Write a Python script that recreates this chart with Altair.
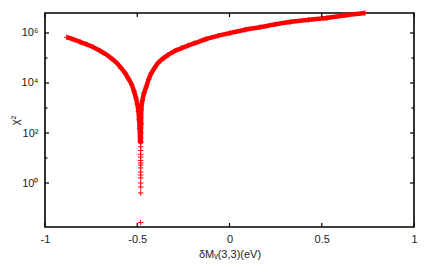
import altair as alt
import pandas as pd

# --- data ---
# thick band (continuous curve of dense points), left to right
band_x = [-0.882, -0.846, -0.810, -0.774, -0.738, -0.702, -0.666, -0.638, -0.611, -0.588,
          -0.566, -0.548, -0.530, -0.518, -0.507, -0.500, -0.494, -0.490, -0.487, -0.484,
          -0.481, -0.4795, -0.478, -0.472, -0.463, -0.451, -0.438, -0.424, -0.406, -0.388,
          -0.360, -0.333, -0.297, -0.261, -0.225, -0.189, -0.126, -0.060, 0.003, 0.085,
          0.165, 0.245, 0.328, 0.428, 0.528, 0.630, 0.734]
band_chi2 = [6.8e5, 5.5e5, 4.4e5, 3.5e5, 2.7e5, 1.95e5, 1.35e5, 9.4e4, 6.3e4, 4.0e4,
             2.5e4, 1.5e4, 8.5e3, 4.8e3, 2.5e3, 1.45e3, 7.4e2, 3.4e2, 1.5e2, 4.5e1,
             4.5e1, 2.2e2, 8.3e2, 2.0e3, 4.0e3, 7.1e3, 1.4e4, 2.45e4, 4.0e4, 6.2e4,
             9.6e4, 1.32e5, 1.9e5, 2.45e5, 3.15e5, 3.9e5, 5.75e5, 7.8e5, 1.0e6, 1.35e6,
             1.7e6, 2.2e6, 2.75e6, 3.35e6, 4.0e6, 5.1e6, 6.3e6]

# scattered individual '+' points at the bottom of the dip
dip_x = [-0.4830, -0.4800, -0.4825, -0.4805, -0.4820, -0.4808, -0.4815, -0.4810, -0.4818,
         -0.4812, -0.4816, -0.4811, -0.4814, -0.4813, -0.4812, -0.4813, -0.4814, -0.4813,
         -0.4813, -0.4813, -0.4813]
dip_chi2 = [400, 250, 160, 100, 63, 40, 28, 20, 14, 11,
            8.0, 6.3, 5.2, 4.0, 2.75, 2.1, 1.6, 1.0, 0.69, 0.4, 0.026]

x_ticks = [-1, -0.5, 0, 0.5, 1]
x_labels = ["-1", "-0.5", "0", "0.5", "1"]
y_major = [1, 1e2, 1e4, 1e6]
y_labels = ["10\u2070", "10\u00b2", "10\u2074", "10\u2076"]
y_minor = [10, 1e3, 1e5]

W, H = 369, 214
RED = "#ff0000"
CROSS = "M-1,0L1,0M0,-1L0,1"

band = pd.DataFrame({"x": band_x, "chi2": band_chi2})
dip = pd.DataFrame({"x": dip_x, "chi2": dip_chi2})
pts = pd.concat([band, dip], ignore_index=True)

xscale = alt.Scale(domain=[-1, 1], nice=False, zero=False)
yscale = alt.Scale(type="log", domain=[0.0174, 6.3e6], nice=False)

def ylab_expr():
    expr = "''"
    for v, l in zip(y_major, y_labels):
        expr = f"(datum.value == {v} ? '{l}' : {expr})"
    return expr

def xlab_expr():
    expr = "''"
    for v, l in zip(x_ticks, x_labels):
        expr = f"(abs(datum.value - ({v})) < 1e-9 ? '{l}' : {expr})"
    return expr

x_enc = alt.X("x:Q", scale=xscale,
              axis=alt.Axis(values=x_ticks, labelExpr=xlab_expr(), ticks=False, domain=False,
                            grid=False, labelPadding=6, title="\u03b4M\u1d65(3,3)(eV)",
                            titleY=27, titleBaseline="middle", labelFlush=False))
y_enc = alt.Y("chi2:Q", scale=yscale,
              axis=alt.Axis(values=y_major, labelExpr=ylab_expr(), ticks=False, domain=False,
                            grid=False, labelPadding=7, title="\u03c7\u00b2",
                            titleX=-30, titleY=107, titleAngle=-90,
                            titleAlign="center", titleBaseline="middle", labelFlush=False))

line = alt.Chart(band).mark_line(color=RED, strokeWidth=4.5, interpolate="monotone").encode(
    x=x_enc, y=y_enc)

points = alt.Chart(pts).mark_point(shape=CROSS, size=30, filled=False, stroke=RED,
                                   strokeWidth=1, opacity=1).encode(
    x=alt.X("x:Q", scale=xscale), y=alt.Y("chi2:Q", scale=yscale))

xt = pd.DataFrame({"x": x_ticks})
yt = pd.DataFrame({"chi2": y_major})
ym = pd.DataFrame({"chi2": y_minor})

tick_style = dict(color="black", strokeWidth=1.2)
xb = alt.Chart(xt).mark_rule(**tick_style).encode(
    x=alt.X("x:Q", scale=xscale), y=alt.value(H), y2=alt.value(H - 4))
xtp = alt.Chart(xt).mark_rule(**tick_style).encode(
    x=alt.X("x:Q", scale=xscale), y=alt.value(0), y2=alt.value(4))
yl = alt.Chart(yt).mark_rule(**tick_style).encode(
    y=alt.Y("chi2:Q", scale=yscale), x=alt.value(0), x2=alt.value(4))
yr = alt.Chart(yt).mark_rule(**tick_style).encode(
    y=alt.Y("chi2:Q", scale=yscale), x=alt.value(W), x2=alt.value(W - 4))
yml = alt.Chart(ym).mark_rule(**tick_style).encode(
    y=alt.Y("chi2:Q", scale=yscale), x=alt.value(0), x2=alt.value(2.5))
ymr = alt.Chart(ym).mark_rule(**tick_style).encode(
    y=alt.Y("chi2:Q", scale=yscale), x=alt.value(W), x2=alt.value(W - 2.5))

chart = alt.layer(line, points, xb, xtp, yl, yr, yml, ymr).properties(
    width=W, height=H,
    autosize=alt.AutoSizeParams(type="none"),
    padding={"left": 37, "top": 5, "right": 14, "bottom": 38},
    background="white",
).configure_view(
    stroke="black", strokeWidth=1.6
).configure_axis(
    labelFont="Liberation Sans", labelFontSize=11, labelColor="#222",
    titleFont="Liberation Sans", titleFontSize=11, titleColor="#222",
    titleFontWeight="normal",
)

chart.save("out.html", embed_options={"renderer": "svg", "actions": False})
